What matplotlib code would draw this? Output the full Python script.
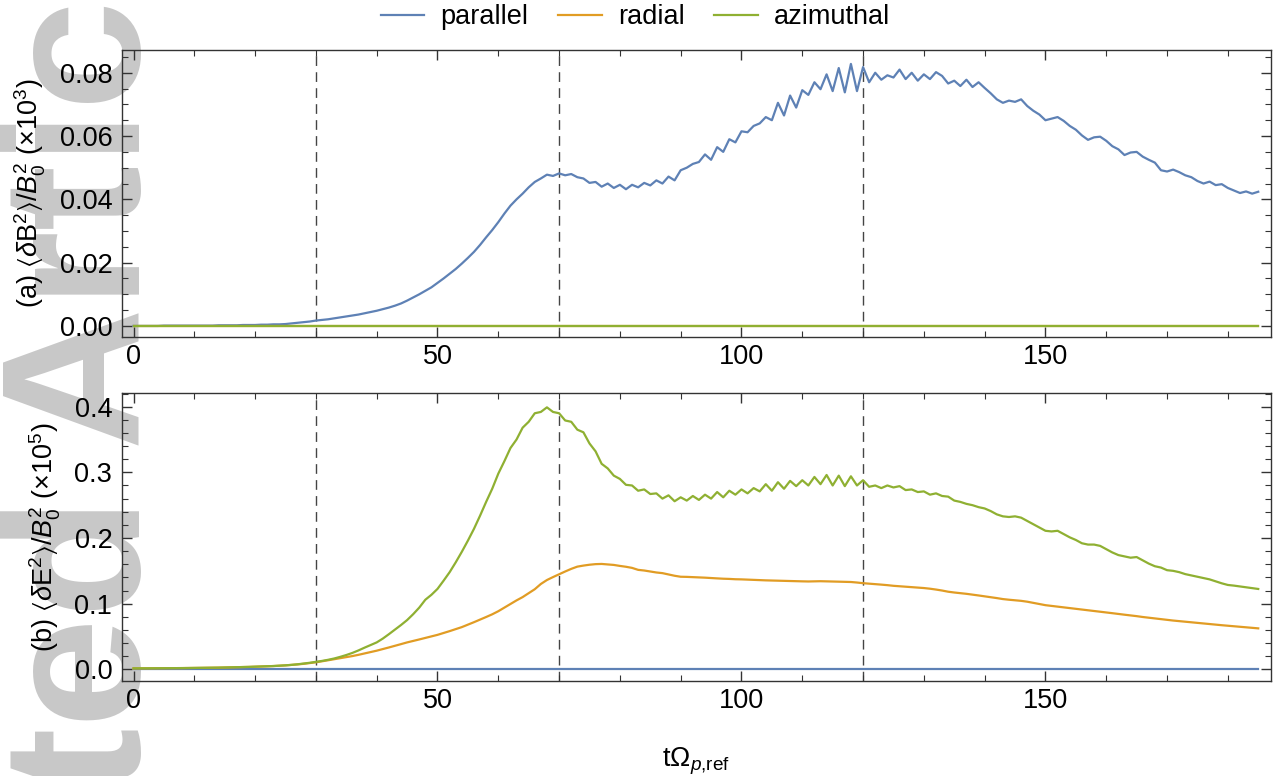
"""
Magnetic and electric fluctuation energy vs time (two stacked panels).
"""

import numpy as np
import matplotlib
matplotlib.use("Agg")
import matplotlib.pyplot as plt
from matplotlib.ticker import MultipleLocator, FormatStrFormatter
from matplotlib.lines import Line2D

plt.rcParams["font.family"] = ["Liberation Sans", "DejaVu Sans"]
plt.rcParams["mathtext.fontset"] = "custom"
plt.rcParams["mathtext.rm"] = "Liberation Sans"
plt.rcParams["mathtext.it"] = "Liberation Sans:italic"
plt.rcParams["mathtext.fallback"] = "stixsans"

# ---------------------------------------------------------------------------
# Data (one value per unit of t)
# ---------------------------------------------------------------------------
t = np.arange(0, 186)

# (a) <dB^2>/B0^2 (x10^3), parallel component
b_par = [
    0.0000, 0.0000, 0.0000, 0.0000, 0.0000, 0.0001, 0.0001, 0.0001, 0.0001, 0.0001,
    0.0001, 0.0001, 0.0001, 0.0001, 0.0002, 0.0002, 0.0002, 0.0002, 0.0003, 0.0003,
    0.0003, 0.0004, 0.0004, 0.0005, 0.0005, 0.0006, 0.0008, 0.0010, 0.0012, 0.0014,
    0.0017, 0.0019, 0.0021, 0.0024, 0.0027, 0.0030, 0.0033, 0.0036, 0.0040, 0.0044,
    0.0048, 0.0053, 0.0058, 0.0064, 0.0071, 0.0080, 0.0090, 0.0100, 0.0111, 0.0122,
    0.0136, 0.0150, 0.0165, 0.0180, 0.0197, 0.0215, 0.0234, 0.0256, 0.0280, 0.0303,
    0.0328, 0.0355, 0.0380, 0.0400, 0.0418, 0.0438, 0.0455, 0.0466, 0.0478, 0.0474,
    0.0482, 0.0476, 0.0480, 0.0470, 0.0466, 0.0452, 0.0455, 0.0440, 0.0450, 0.0436,
    0.0446, 0.0432, 0.0446, 0.0438, 0.0452, 0.0444, 0.0460, 0.0450, 0.0472, 0.0460,
    0.0492, 0.0500, 0.0512, 0.0518, 0.0542, 0.0525, 0.0565, 0.0550, 0.0590, 0.0580,
    0.0615, 0.0612, 0.0632, 0.0640, 0.0660, 0.0650, 0.0705, 0.0665, 0.0728, 0.0690,
    0.0745, 0.0730, 0.0770, 0.0748, 0.0795, 0.0742, 0.0815, 0.0738, 0.0828, 0.0742,
    0.0818, 0.0770, 0.0800, 0.0778, 0.0792, 0.0785, 0.0810, 0.0780, 0.0800, 0.0775,
    0.0795, 0.0780, 0.0802, 0.0790, 0.0766, 0.0775, 0.0758, 0.0778, 0.0755, 0.0770,
    0.0752, 0.0735, 0.0716, 0.0705, 0.0712, 0.0708, 0.0716, 0.0695, 0.0680, 0.0668,
    0.0650, 0.0655, 0.0660, 0.0648, 0.0632, 0.0620, 0.0602, 0.0588, 0.0596, 0.0598,
    0.0585, 0.0568, 0.0558, 0.0540, 0.0548, 0.0550, 0.0535, 0.0525, 0.0516, 0.0492,
    0.0488, 0.0494, 0.0486, 0.0476, 0.0470, 0.0458, 0.0450, 0.0456, 0.0445, 0.0448,
    0.0436, 0.0428, 0.0420, 0.0425, 0.0418, 0.0424,
]
b_rad = [0.0] * len(t)
b_azi = [0.0] * len(t)

# (b) <dE^2>/B0^2 (x10^5)
e_par = [0.0] * len(t)
e_rad = [
    0.0015, 0.0015, 0.0016, 0.0016, 0.0017, 0.0017, 0.0018, 0.0018, 0.0019, 0.0020,
    0.0021, 0.0022, 0.0023, 0.0024, 0.0026, 0.0028, 0.0030, 0.0032, 0.0034, 0.0037,
    0.0040, 0.0043, 0.0046, 0.0050, 0.0055, 0.0060, 0.0067, 0.0075, 0.0084, 0.0095,
    0.0107, 0.0122, 0.0138, 0.0154, 0.0170, 0.0186, 0.0202, 0.0221, 0.0242, 0.0263,
    0.0284, 0.0308, 0.0333, 0.0358, 0.0384, 0.0410, 0.0432, 0.0455, 0.0478, 0.0500,
    0.0525, 0.0553, 0.0582, 0.0612, 0.0643, 0.0680, 0.0718, 0.0757, 0.0797, 0.0838,
    0.0885, 0.0940, 0.0995, 0.1050, 0.1100, 0.1160, 0.1220, 0.1300, 0.1360, 0.1405,
    0.1448, 0.1490, 0.1530, 0.1564, 0.1580, 0.1593, 0.1602, 0.1605, 0.1597, 0.1590,
    0.1575, 0.1562, 0.1545, 0.1515, 0.1505, 0.1490, 0.1475, 0.1465, 0.1445, 0.1425,
    0.1410, 0.1408, 0.1404, 0.1400, 0.1396, 0.1390, 0.1385, 0.1380, 0.1377, 0.1372,
    0.1370, 0.1366, 0.1362, 0.1358, 0.1355, 0.1352, 0.1350, 0.1348, 0.1345, 0.1342,
    0.1340, 0.1338, 0.1340, 0.1342, 0.1340, 0.1338, 0.1335, 0.1332, 0.1330, 0.1322,
    0.1312, 0.1305, 0.1298, 0.1290, 0.1282, 0.1272, 0.1265, 0.1258, 0.1250, 0.1244,
    0.1238, 0.1228, 0.1215, 0.1200, 0.1182, 0.1170, 0.1160, 0.1150, 0.1138, 0.1125,
    0.1112, 0.1098, 0.1085, 0.1070, 0.1060, 0.1052, 0.1043, 0.1030, 0.1012, 0.0995,
    0.0977, 0.0966, 0.0955, 0.0944, 0.0933, 0.0922, 0.0911, 0.0900, 0.0889, 0.0878,
    0.0866, 0.0855, 0.0843, 0.0832, 0.0821, 0.0810, 0.0797, 0.0786, 0.0775, 0.0763,
    0.0752, 0.0743, 0.0734, 0.0725, 0.0716, 0.0707, 0.0698, 0.0690, 0.0680, 0.0672,
    0.0664, 0.0656, 0.0648, 0.0640, 0.0632, 0.0624,
]
e_azi = [
    0.0015, 0.0015, 0.0016, 0.0016, 0.0017, 0.0017, 0.0018, 0.0018, 0.0019, 0.0020,
    0.0021, 0.0022, 0.0023, 0.0024, 0.0026, 0.0028, 0.0030, 0.0032, 0.0034, 0.0037,
    0.0040, 0.0043, 0.0046, 0.0050, 0.0055, 0.0061, 0.0068, 0.0077, 0.0088, 0.0100,
    0.0114, 0.0128, 0.0145, 0.0165, 0.0190, 0.0218, 0.0250, 0.0288, 0.0330, 0.0370,
    0.0410, 0.0468, 0.0535, 0.0605, 0.0675, 0.0750, 0.0840, 0.0940, 0.1060, 0.1135,
    0.1225, 0.1350, 0.1480, 0.1630, 0.1790, 0.1960, 0.2140, 0.2340, 0.2550, 0.2750,
    0.2980, 0.3170, 0.3370, 0.3500, 0.3680, 0.3770, 0.3900, 0.3920, 0.3990, 0.3920,
    0.3900, 0.3790, 0.3770, 0.3650, 0.3610, 0.3440, 0.3320, 0.3130, 0.3060, 0.2950,
    0.2900, 0.2810, 0.2800, 0.2720, 0.2740, 0.2670, 0.2680, 0.2600, 0.2650, 0.2560,
    0.2620, 0.2570, 0.2640, 0.2580, 0.2660, 0.2600, 0.2700, 0.2620, 0.2720, 0.2660,
    0.2740, 0.2680, 0.2760, 0.2710, 0.2820, 0.2720, 0.2850, 0.2750, 0.2870, 0.2790,
    0.2880, 0.2800, 0.2930, 0.2820, 0.2960, 0.2800, 0.2950, 0.2790, 0.2940, 0.2800,
    0.2880, 0.2780, 0.2800, 0.2760, 0.2800, 0.2770, 0.2790, 0.2730, 0.2740, 0.2700,
    0.2710, 0.2660, 0.2680, 0.2640, 0.2630, 0.2570, 0.2550, 0.2520, 0.2500, 0.2470,
    0.2450, 0.2410, 0.2360, 0.2330, 0.2320, 0.2330, 0.2310, 0.2260, 0.2210, 0.2160,
    0.2110, 0.2100, 0.2110, 0.2060, 0.2010, 0.1970, 0.1920, 0.1900, 0.1900, 0.1880,
    0.1830, 0.1780, 0.1740, 0.1720, 0.1700, 0.1710, 0.1660, 0.1610, 0.1570, 0.1550,
    0.1510, 0.1500, 0.1480, 0.1450, 0.1430, 0.1410, 0.1390, 0.1370, 0.1340, 0.1310,
    0.1285, 0.1275, 0.1262, 0.1250, 0.1235, 0.1224,
]

LABELS = ["parallel", "radial", "azimuthal"]
COLORS = ["#5E81B5", "#E19C24", "#8FB032"]
MARKER_TIMES = [30, 70, 120]

# ---------------------------------------------------------------------------
# Figure
# ---------------------------------------------------------------------------
fig = plt.figure(figsize=(12.88, 7.76), dpi=100)
fig.patch.set_facecolor("white")

# journal watermark behind everything
fig.text(0.1087, -0.785, "Accepted Article", rotation=90, rotation_mode="anchor",
         ha="left", va="baseline", fontsize=142, fontweight="bold",
         color="#c8c8c8", zorder=-5)

ax1 = fig.add_axes([0.0947, 0.5657, 0.8921, 0.3699])
ax2 = fig.add_axes([0.0947, 0.1224, 0.8921, 0.3712])


def style_axes(ax, ymajor, yminor, fmt, ylim):
    ax.set_facecolor("none")
    ax.set_xlim(-1.9, 187.1)
    ax.set_ylim(*ylim)
    ax.xaxis.set_major_locator(MultipleLocator(50))
    ax.xaxis.set_minor_locator(MultipleLocator(10))
    ax.yaxis.set_major_locator(MultipleLocator(ymajor))
    ax.yaxis.set_minor_locator(MultipleLocator(yminor))
    ax.yaxis.set_major_formatter(FormatStrFormatter(fmt))
    ax.tick_params(which="both", direction="in", top=True, right=True,
                   labelsize=19.5, color="#333333")
    ax.tick_params(which="major", length=7, width=1.0)
    ax.tick_params(which="minor", length=4.5, width=0.8)
    ax.tick_params(axis="y", pad=7)
    ax.tick_params(axis="x", pad=5)
    for sp in ax.spines.values():
        sp.set_color("#333333")
        sp.set_linewidth(1.0)
    for tv in MARKER_TIMES:
        ax.axvline(tv, color="#444444", lw=1.0, dashes=(7, 4.5), zorder=1)


for y, c in zip([b_par, b_rad, b_azi], COLORS):
    ax1.plot(t, y, color=c, lw=1.6, zorder=2)
for y, c in zip([e_par, e_rad, e_azi], COLORS):
    ax2.plot(t, y, color=c, lw=1.6, zorder=2)

style_axes(ax1, 0.02, 0.005, "%.2f", (-0.0035, 0.0872))
style_axes(ax2, 0.1, 0.02, "%.1f", (-0.0178, 0.4209))

ax1.set_ylabel(r"(a) $\langle\delta\mathrm{B}^2\rangle/B_0^2$ (×10$^3$)",
               fontsize=19.5, labelpad=8)
ax2.set_ylabel(r"(b) $\langle\delta\mathrm{E}^2\rangle/B_0^2$ (×10$^5$)",
               fontsize=19.5, labelpad=8)
ax2.set_xlabel(r"t$\Omega_{p{,}\mathrm{ref}}$", fontsize=19.5, labelpad=23)

handles = [Line2D([], [], color=c, lw=1.6) for c in COLORS]
fig.legend(handles, LABELS, loc="center", bbox_to_anchor=(0.4934, 0.978), ncol=3,
           frameon=False, fontsize=19.5, handlelength=1.6, handletextpad=0.6,
           columnspacing=1.1)

fig.savefig("out.png", dpi=100)
